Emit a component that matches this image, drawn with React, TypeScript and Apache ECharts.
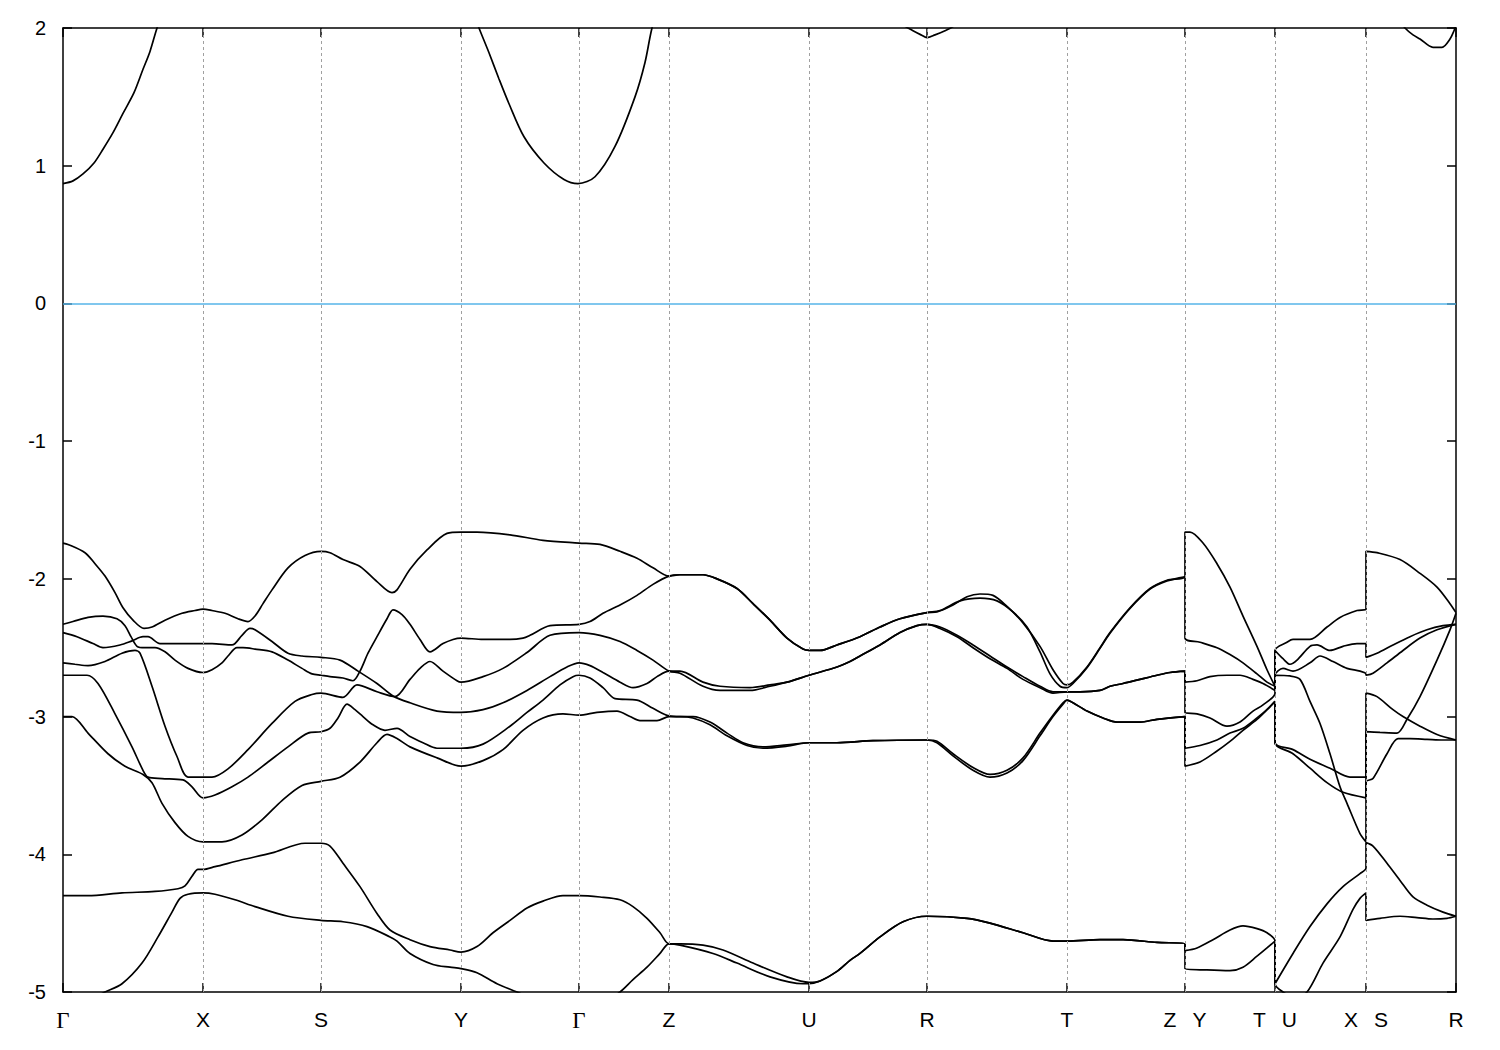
import React, { useEffect, useRef } from 'react';
import * as echarts from 'echarts';

// k-path positions of the high-symmetry points and their labels
const kTicks = [0, 140, 258, 398, 516, 606, 746, 864, 1004, 1122, 1212, 1303, 1393];
const kLabels = ['Γ', 'X', 'S', 'Y', 'Γ', 'Z', 'U', 'R', 'T', 'Z|Y', 'T|U', 'X|S', 'R'];

// valence bands: [k, energy (eV)]
const bandA = [
  [0, -1.74], [5, -1.75], [22, -1.81], [32, -1.89], [42, -1.98], [52, -2.10], [60, -2.21], [70, -2.30], [81, -2.36], [89, -2.35], [102, -2.30], [119, -2.25], [132, -2.23], [140, -2.22],
  [149, -2.23], [162, -2.25], [175, -2.29], [185, -2.31], [192, -2.27], [200, -2.18], [209, -2.08], [225, -1.92], [242, -1.83], [258, -1.80],
  [267, -1.81], [280, -1.86], [297, -1.91], [314, -2.02], [329, -2.10], [334, -2.08], [347, -1.93], [364, -1.79], [384, -1.67], [398, -1.66],
  [414, -1.66], [447, -1.68], [480, -1.72], [516, -1.74],
  [537, -1.75], [557, -1.80], [574, -1.85], [590, -1.92], [606, -1.98],
  [617, -1.97], [640, -1.97], [654, -2.00], [674, -2.07], [690, -2.18], [707, -2.30], [724, -2.43], [740, -2.51], [746, -2.52],
  [757, -2.52], [774, -2.48], [797, -2.42], [817, -2.35], [837, -2.29], [864, -2.245],
  [874, -2.24], [890, -2.19], [904, -2.13], [917, -2.11], [930, -2.12], [944, -2.20], [960, -2.32], [977, -2.49], [990, -2.66], [1000, -2.76], [1004, -2.77],
  [1010, -2.75], [1024, -2.64], [1037, -2.50], [1047, -2.39], [1067, -2.21], [1087, -2.07], [1104, -2.01], [1122, -1.98],
  [1122, -1.66], [1127, -1.66], [1140, -1.74], [1154, -1.89], [1167, -2.06], [1180, -2.27], [1194, -2.49], [1204, -2.66], [1212, -2.78],
  [1212, -2.52], [1224, -2.46], [1230, -2.44], [1247, -2.44], [1264, -2.35], [1277, -2.28], [1294, -2.23], [1303, -2.22],
  [1303, -1.80], [1314, -1.81], [1337, -1.86], [1357, -1.96], [1374, -2.06], [1387, -2.18], [1393, -2.245],
];

const bandB = [
  [0, -2.33], [10, -2.31], [25, -2.28], [40, -2.27], [54, -2.29], [62, -2.34], [68, -2.42], [74, -2.49], [82, -2.50], [92, -2.50], [102, -2.53], [112, -2.59], [125, -2.65], [140, -2.68],
  [149, -2.66], [159, -2.61], [165, -2.56], [174, -2.50], [180, -2.50], [192, -2.51], [209, -2.53], [225, -2.59], [239, -2.65], [249, -2.69], [258, -2.70],
  [267, -2.71], [280, -2.72], [290, -2.74], [297, -2.67], [305, -2.54], [314, -2.42], [324, -2.29], [330, -2.225], [339, -2.26], [347, -2.33], [357, -2.44], [367, -2.53], [380, -2.47], [390, -2.44], [398, -2.43],
  [420, -2.44], [447, -2.44], [460, -2.43], [467, -2.41], [487, -2.34], [516, -2.33],
  [527, -2.31], [540, -2.25], [557, -2.19], [574, -2.12], [590, -2.04], [606, -1.98],
  [617, -1.97], [640, -1.97], [654, -2.00], [674, -2.07], [690, -2.18], [707, -2.30], [724, -2.43], [740, -2.51], [746, -2.52],
  [757, -2.52], [774, -2.48], [797, -2.42], [817, -2.35], [837, -2.29], [864, -2.245],
  [877, -2.23], [897, -2.16], [917, -2.14], [934, -2.16], [950, -2.24], [964, -2.35], [977, -2.53], [987, -2.69], [997, -2.78], [1004, -2.79],
  [1010, -2.76], [1024, -2.645], [1037, -2.505], [1047, -2.395], [1067, -2.215], [1087, -2.075], [1104, -2.015], [1122, -1.985],
  [1122, -2.43], [1137, -2.46], [1154, -2.50], [1167, -2.55], [1180, -2.61], [1194, -2.69], [1204, -2.75], [1212, -2.78],
  [1212, -2.52], [1220, -2.58], [1227, -2.62], [1234, -2.59], [1247, -2.49], [1254, -2.48], [1267, -2.52], [1280, -2.49], [1294, -2.47], [1303, -2.47],
  [1303, -2.57], [1314, -2.54], [1330, -2.48], [1347, -2.42], [1364, -2.37], [1380, -2.34], [1393, -2.33],
];

const bandC = [
  [0, -2.39], [14, -2.42], [30, -2.47], [40, -2.50], [57, -2.48], [69, -2.45], [80, -2.42], [85, -2.42], [97, -2.47], [114, -2.47], [140, -2.47],
  [149, -2.47], [169, -2.48], [179, -2.41], [187, -2.36], [192, -2.37], [209, -2.455], [225, -2.54], [239, -2.56], [258, -2.57],
  [277, -2.59], [295, -2.67], [314, -2.76], [330, -2.85], [347, -2.90], [374, -2.96], [398, -2.97],
  [420, -2.95], [440, -2.90], [464, -2.81], [487, -2.71], [504, -2.64], [516, -2.61],
  [527, -2.63], [540, -2.68], [557, -2.75], [570, -2.79], [584, -2.76], [594, -2.71], [606, -2.67],
  [617, -2.67], [640, -2.75], [657, -2.78], [687, -2.79], [707, -2.77], [724, -2.75], [746, -2.70],
  [774, -2.64], [787, -2.60], [797, -2.56], [817, -2.48], [837, -2.39], [854, -2.34], [864, -2.33],
  [877, -2.35], [894, -2.41], [910, -2.48], [927, -2.56], [944, -2.64], [960, -2.71], [977, -2.78], [990, -2.82], [1004, -2.82],
  [1017, -2.82], [1037, -2.81], [1047, -2.78], [1060, -2.76], [1077, -2.73], [1094, -2.70], [1107, -2.68], [1122, -2.67],
  [1122, -2.75], [1134, -2.74], [1147, -2.71], [1164, -2.70], [1177, -2.70], [1190, -2.73], [1200, -2.76], [1212, -2.81],
  [1212, -2.70], [1220, -2.65], [1230, -2.67], [1247, -2.61], [1257, -2.56], [1270, -2.60], [1284, -2.65], [1297, -2.67], [1303, -2.69],
  [1303, -2.70], [1310, -2.685], [1324, -2.61], [1340, -2.52], [1357, -2.43], [1374, -2.37], [1393, -2.33],
];

const bandD = [
  [0, -2.61], [12, -2.62], [25, -2.63], [42, -2.60], [59, -2.54], [72, -2.52], [77, -2.54], [89, -2.78], [102, -3.07], [114, -3.29], [125, -3.44], [140, -3.44],
  [149, -3.44], [165, -3.38], [185, -3.24], [209, -3.05], [232, -2.89], [249, -2.84], [258, -2.83],
  [280, -2.86], [294, -2.77], [314, -2.82], [332, -2.855], [347, -2.73], [357, -2.65], [367, -2.60], [380, -2.67], [394, -2.74], [398, -2.75],
  [420, -2.71], [440, -2.65], [464, -2.535], [487, -2.41], [516, -2.39],
  [537, -2.41], [557, -2.455], [574, -2.52], [590, -2.59], [606, -2.67],
  [617, -2.685], [640, -2.78], [657, -2.81], [687, -2.81], [707, -2.78], [724, -2.75], [746, -2.70],
  [774, -2.64], [787, -2.60], [797, -2.56], [817, -2.48], [837, -2.39], [854, -2.34], [864, -2.33],
  [877, -2.36], [894, -2.42], [910, -2.50], [927, -2.58], [944, -2.65], [960, -2.73], [977, -2.79], [990, -2.83], [1004, -2.82],
  [1017, -2.82], [1037, -2.81], [1047, -2.78], [1060, -2.76], [1077, -2.73], [1094, -2.70], [1107, -2.68], [1122, -2.67],
  [1122, -2.97], [1134, -2.98], [1147, -3.01], [1164, -3.07], [1177, -3.04], [1190, -2.96], [1200, -2.915], [1212, -2.83],
  [1212, -2.70], [1227, -2.705], [1237, -2.73], [1247, -2.89], [1257, -3.05], [1267, -3.27], [1277, -3.51], [1284, -3.63], [1297, -3.85], [1303, -3.91],
  [1303, -3.475], [1310, -3.45], [1324, -3.27], [1335, -3.16], [1347, -3.16], [1364, -3.165], [1380, -3.17], [1393, -3.17],
];

const bandE = [
  [0, -2.70], [24, -2.70], [35, -2.76], [52, -2.98], [69, -3.22], [80, -3.39], [85, -3.44], [99, -3.45], [120, -3.46], [129, -3.51], [140, -3.59],
  [152, -3.57], [169, -3.51], [185, -3.44], [205, -3.33], [225, -3.22], [245, -3.12], [258, -3.11],
  [267, -3.085], [275, -3.01], [284, -2.91], [292, -2.95], [300, -3.00], [310, -3.06], [322, -3.10], [334, -3.085], [347, -3.145], [360, -3.19], [374, -3.23], [398, -3.23],
  [420, -3.20], [447, -3.07], [464, -2.97], [480, -2.88], [497, -2.77], [510, -2.71], [516, -2.70],
  [527, -2.72], [540, -2.79], [552, -2.87], [574, -2.88], [590, -2.94], [606, -2.995],
  [617, -3.00], [630, -3.00], [647, -3.04], [664, -3.12], [680, -3.19], [700, -3.22], [724, -3.205], [746, -3.19],
  [774, -3.19], [810, -3.175], [864, -3.17],
  [874, -3.18], [890, -3.27], [910, -3.37], [927, -3.42], [944, -3.39], [960, -3.30], [977, -3.12], [990, -2.99], [1000, -2.90], [1004, -2.88],
  [1010, -2.90], [1024, -2.96], [1040, -3.01], [1054, -3.04], [1077, -3.04], [1094, -3.02], [1122, -3.00],
  [1122, -3.23], [1137, -3.21], [1154, -3.17], [1167, -3.12], [1180, -3.085], [1194, -3.01], [1204, -2.95], [1212, -2.89],
  [1212, -3.19], [1230, -3.24], [1247, -3.31], [1267, -3.375], [1287, -3.44], [1303, -3.44],
  [1303, -2.83], [1314, -2.855], [1330, -2.95], [1340, -3.00], [1357, -3.07], [1374, -3.13], [1393, -3.17],
];

const bandF = [
  [0, -3.00], [9, -3.00], [25, -3.12], [45, -3.27], [62, -3.36], [80, -3.42], [89, -3.48], [99, -3.63], [112, -3.77], [125, -3.87], [140, -3.91],
  [159, -3.91], [179, -3.86], [199, -3.75], [219, -3.61], [239, -3.50], [258, -3.47],
  [277, -3.44], [297, -3.33], [314, -3.19], [324, -3.13], [334, -3.16], [347, -3.22], [374, -3.30], [398, -3.36],
  [420, -3.32], [440, -3.24], [460, -3.10], [480, -3.01], [500, -2.98], [516, -2.99],
  [534, -2.97], [554, -2.96], [567, -3.00], [577, -3.03], [594, -3.03], [606, -3.00],
  [617, -3.00], [630, -3.01], [647, -3.06], [664, -3.14], [684, -3.21], [700, -3.23], [724, -3.215], [746, -3.19],
  [774, -3.19], [810, -3.175], [864, -3.17],
  [874, -3.19], [890, -3.285], [910, -3.39], [927, -3.44], [944, -3.41], [960, -3.32], [977, -3.14], [990, -3.00], [1000, -2.91], [1004, -2.88],
  [1010, -2.90], [1024, -2.96], [1040, -3.01], [1054, -3.04], [1077, -3.04], [1094, -3.02], [1122, -3.00],
  [1122, -3.36], [1137, -3.33], [1154, -3.25], [1167, -3.18], [1180, -3.10], [1194, -3.02], [1204, -2.95], [1212, -2.89],
  [1212, -3.19], [1230, -3.27], [1247, -3.375], [1264, -3.48], [1280, -3.55], [1303, -3.59],
  [1303, -3.11], [1317, -3.115], [1334, -3.12], [1344, -3.02], [1357, -2.855], [1374, -2.59], [1387, -2.37], [1393, -2.25],
];

const bandG = [
  [0, -4.30], [25, -4.30], [59, -4.28], [92, -4.27], [115, -4.25], [122, -4.23], [129, -4.16], [135, -4.11], [140, -4.11],
  [152, -4.09], [179, -4.04], [209, -3.99], [242, -3.92], [258, -3.92],
  [267, -3.94], [280, -4.065], [297, -4.235], [314, -4.43], [327, -4.55], [347, -4.62], [367, -4.67], [387, -4.695], [398, -4.71],
  [414, -4.67], [430, -4.57], [447, -4.48], [464, -4.39], [480, -4.34], [500, -4.30], [516, -4.30],
  [537, -4.31], [557, -4.33], [570, -4.38], [584, -4.465], [597, -4.57], [606, -4.65],
  [617, -4.65], [640, -4.66], [660, -4.695], [690, -4.79], [724, -4.89], [746, -4.93],
  [757, -4.92], [774, -4.85], [787, -4.77], [797, -4.72], [817, -4.60], [840, -4.49], [864, -4.45],
  [904, -4.465], [927, -4.50], [960, -4.57], [990, -4.63], [1004, -4.63],
  [1037, -4.62], [1060, -4.62], [1094, -4.64], [1122, -4.65],
  [1122, -4.70], [1134, -4.68], [1150, -4.62], [1167, -4.55], [1180, -4.52], [1194, -4.54], [1204, -4.57], [1212, -4.63],
  [1212, -4.94], [1230, -4.72], [1247, -4.525], [1264, -4.36], [1280, -4.235], [1297, -4.14], [1303, -4.10],
  [1303, -3.915], [1310, -3.94], [1324, -4.065], [1337, -4.19], [1350, -4.31], [1364, -4.37], [1380, -4.42], [1393, -4.45],
];

const bandH = [
  [0, -5.12], [20, -5.08], [42, -5.00], [59, -4.94], [79, -4.79], [95, -4.60], [109, -4.42], [117, -4.32], [125, -4.29], [140, -4.28],
  [152, -4.29], [172, -4.33], [192, -4.38], [225, -4.45], [258, -4.48],
  [280, -4.49], [304, -4.525], [327, -4.60], [334, -4.63], [347, -4.72], [370, -4.80], [387, -4.82], [398, -4.83],
  [414, -4.86], [434, -4.94], [454, -5.00], [480, -5.08], [516, -5.12],
  [540, -5.08], [557, -5.00], [570, -4.91], [584, -4.82], [597, -4.72], [606, -4.65],
  [617, -4.66], [650, -4.72], [674, -4.79], [707, -4.89], [740, -4.94], [746, -4.94],
  [757, -4.92], [774, -4.85], [787, -4.77], [797, -4.72], [817, -4.60], [840, -4.49], [864, -4.45],
  [904, -4.465], [927, -4.50], [960, -4.57], [990, -4.63], [1004, -4.63],
  [1037, -4.62], [1060, -4.62], [1094, -4.64], [1122, -4.65],
  [1122, -4.83], [1144, -4.84], [1167, -4.845], [1180, -4.82], [1194, -4.74], [1204, -4.68], [1212, -4.63],
  [1212, -4.94], [1220, -5.00], [1232, -5.04], [1244, -5.00], [1260, -4.79], [1277, -4.60], [1290, -4.40], [1297, -4.32], [1303, -4.28],
  [1303, -4.48], [1317, -4.465], [1337, -4.45], [1354, -4.46], [1370, -4.47], [1384, -4.465], [1393, -4.45],
];

// conduction bands (only the parts below 2 eV are visible)
const condGamma1 = [[0, 0.87], [10, 0.89], [20, 0.94], [31, 1.02], [40, 1.12], [50, 1.24], [60, 1.38], [71, 1.53], [80, 1.70], [87, 1.83], [94, 2.0], [100, 2.12]];
const condGamma2 = [[410, 2.12], [416, 2.0], [426, 1.82], [436, 1.63], [446, 1.45], [461, 1.21], [481, 1.02], [501, 0.90], [515, 0.87], [532, 0.92], [552, 1.14], [572, 1.50], [582, 1.75], [589, 2.0], [595, 2.12]];
const condR1 = [[828, 2.06], [840, 2.02], [850, 1.98], [858, 1.95], [864, 1.93], [872, 1.95], [882, 1.98], [890, 2.01], [896, 2.05]];
const condR2 = [[1336, 2.06], [1342, 2.0], [1350, 1.95], [1357, 1.92], [1370, 1.86], [1379, 1.86], [1387, 1.92], [1391, 1.98], [1393, 2.02]];

const energyMin = -5;
const energyMax = 2;
const fermiLevel = 0;

export default function App() {
  const ref = useRef<HTMLDivElement>(null);

  useEffect(() => {
    if (!ref.current) return;
    const chart = echarts.init(ref.current, null, { renderer: 'svg' });
    const font = '"Liberation Sans", Arial, Helvetica, sans-serif';
    const serif = '"Liberation Serif", "DejaVu Serif", "Times New Roman", serif';

    const bands = [bandA, bandB, bandC, bandD, bandE, bandF, bandG, bandH, condGamma1, condGamma2, condR1, condR2];

    const labelFor = (v: number) => {
      const i = kTicks.indexOf(Math.round(v));
      if (i < 0) return '';
      const lab = kLabels[i];
      if (lab === 'Γ') return '{g|Γ}';
      if (lab.indexOf('|') >= 0) {
        const [l, r] = lab.split('|');
        return '{l|' + l + '}{r|' + r + '}';
      }
      return lab;
    };

    const tickStyle = { color: '#000', width: 1.5 };
    const axisLineStyle = { color: '#000', width: 1.5 };

    chart.setOption({
      animation: false,
      backgroundColor: '#ffffff',
      grid: { left: 63, right: 44, top: 28, bottom: 58, containLabel: false },
      xAxis: [
        {
          type: 'value', min: 0, max: 1393, position: 'bottom',
          axisLine: { show: true, onZero: false, lineStyle: axisLineStyle },
          axisTick: { show: true, inside: true, length: 9, customValues: kTicks, lineStyle: tickStyle },
          axisLabel: {
            show: true, customValues: kTicks, margin: 17, color: '#000', fontSize: 21, fontFamily: font,
            formatter: (v: number) => labelFor(v),
            rich: {
              g: { fontFamily: serif, fontSize: 23, color: '#000' },
              l: { fontFamily: font, fontSize: 21, color: '#000' },
              r: { fontFamily: font, fontSize: 21, color: '#000', padding: [0, 0, 0, 16] },
            },
          },
          splitLine: { show: false },
        },
        {
          type: 'value', min: 0, max: 1393, position: 'top',
          axisLine: { show: true, onZero: false, lineStyle: axisLineStyle },
          axisTick: { show: true, inside: true, length: 9, customValues: kTicks, lineStyle: tickStyle },
          axisLabel: { show: false },
          splitLine: { show: false },
        },
      ],
      yAxis: [
        {
          type: 'value', min: energyMin, max: energyMax, interval: 1, position: 'left',
          axisLine: { show: true, onZero: false, lineStyle: axisLineStyle },
          axisTick: { show: true, inside: true, length: 9, lineStyle: tickStyle },
          axisLabel: { show: true, margin: 17, color: '#000', fontSize: 20, fontFamily: font },
          splitLine: { show: false },
        },
        {
          type: 'value', min: energyMin, max: energyMax, interval: 1, position: 'right',
          axisLine: { show: true, onZero: false, lineStyle: axisLineStyle },
          axisTick: { show: true, inside: true, length: 9, lineStyle: tickStyle },
          axisLabel: { show: false },
          splitLine: { show: false },
        },
      ],
      series: [
        {
          type: 'line', data: [], z: 1, silent: true, showSymbol: false,
          markLine: {
            silent: true, symbol: ['none', 'none'], label: { show: false }, animation: false,
            data: [
              ...kTicks.slice(1, -1).map((v) => ({ xAxis: v, lineStyle: { color: '#a0a0a0', type: [3, 3], width: 1 } })),
              { yAxis: fermiLevel, lineStyle: { color: '#56b4e9', type: 'solid', width: 1.5 } },
            ],
          },
        },
        ...bands.map((d) => ({
          type: 'line',
          data: d,
          z: 3,
          silent: true,
          showSymbol: false,
          symbol: 'none',
          smooth: 0.3,
          clip: true,
          lineStyle: { color: '#000', width: 1.7 },
          emphasis: { disabled: true },
        })),
      ],
    });

    return () => chart.dispose();
  }, []);

  return (
    <div
      ref={ref}
      style={{ position: 'fixed', left: 0, top: 0, width: 1500, height: 1050, background: '#fff' }}
    />
  );
}
